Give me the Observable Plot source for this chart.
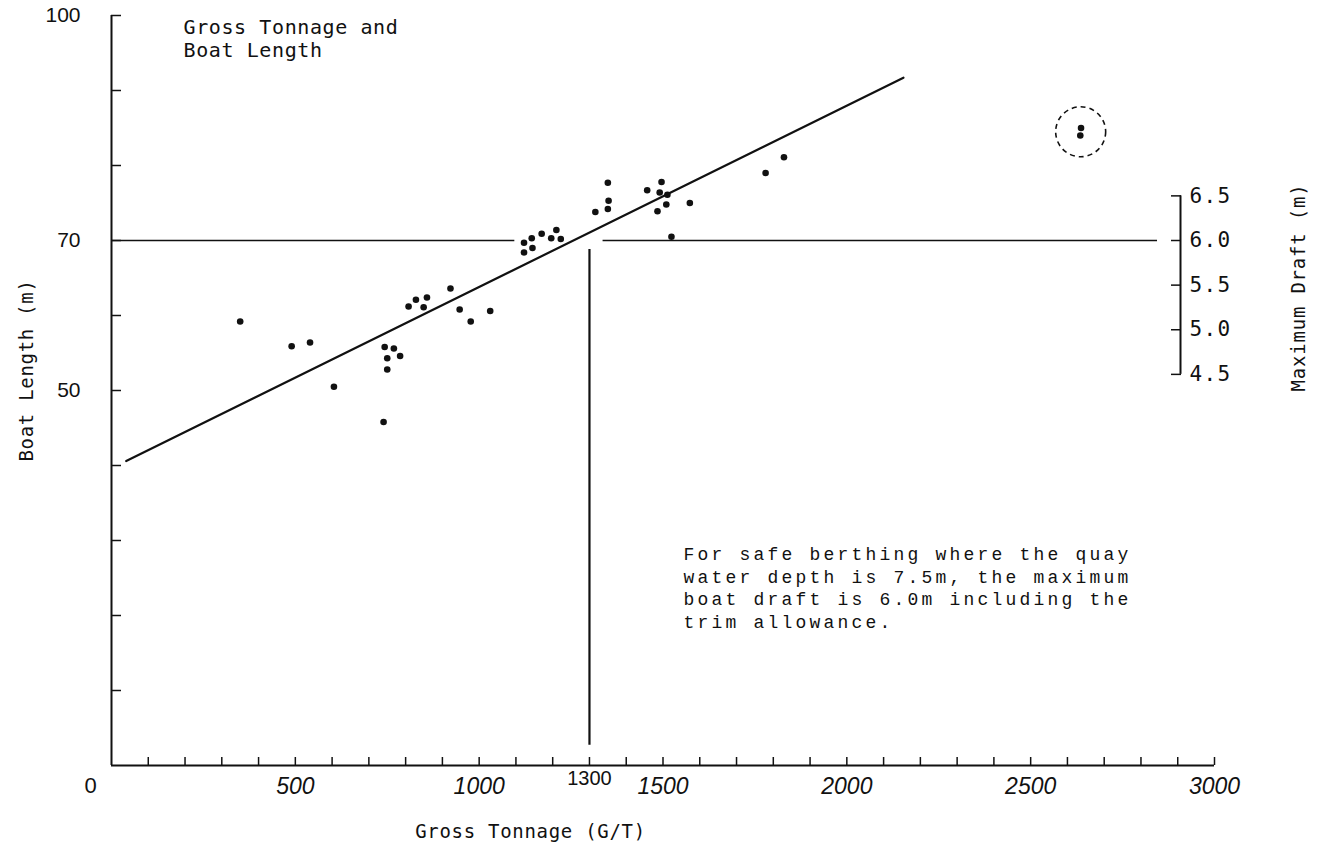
<!DOCTYPE html>
<html>
<head>
<meta charset="utf-8">
<script src="https://cdn.jsdelivr.net/npm/d3@7"></script>
<script src="https://cdn.jsdelivr.net/npm/@observablehq/plot@0.6"></script>
<style>
  html, body { margin: 0; padding: 0; background: #ffffff; }
  #chart svg { display: block; }
</style>
</head>
<body>
<div id="chart"></div>
<script>
// ---- data ----
const tonnage = [350, 490, 540, 605, 740, 743, 768, 750, 785, 750,
  808, 828, 858, 849, 922, 947, 977, 1030,
  1122, 1143, 1122, 1145, 1170, 1196, 1210, 1222,
  1350, 1352, 1350, 1316,
  1457, 1496, 1491, 1512, 1509, 1485, 1573, 1523,
  1779, 1829,
  2637, 2635];
const boatLength = [59.2, 55.9, 56.4, 50.5, 45.8, 55.8, 55.6, 54.3, 54.6, 52.8,
  61.2, 62.1, 62.4, 61.1, 63.6, 60.8, 59.2, 60.6,
  69.7, 70.3, 68.4, 69.0, 70.9, 70.3, 71.4, 70.2,
  77.7, 75.3, 74.2, 73.8,
  76.7, 77.8, 76.4, 76.1, 74.8, 73.9, 75.0, 70.5,
  79.0, 81.1,
  85.0, 84.0];

// fitted line end points
const fitTonnage = [40, 2154];
const fitLength = [40.6, 91.7];

// guide lines (boat length 70 m <-> draft 6.0 m, 1300 G/T)
const guideLength = 70;
const guideFrom = [0, 1337];
const guideTo = [1097, 2845];
const limitTonnage = 1300;
const limitFrom = 2.7;
const limitTo = 68.8;

// circled outlier group
const outlierTonnage = [2636];
const outlierLength = [84.5];

// axes
const xMinorTicks = d3.range(100, 3001, 100);
const xTickLabels = [500, 1000, 1500, 2000, 2500, 3000];
const yMinorTicks = d3.range(10, 101, 10);
const yTickLabels = [50, 70, 100];
const draftTicks = [4.5, 5.0, 5.5, 6.0, 6.5];

// draft (m) expressed on the boat-length scale: 6.0 m draft <-> 70 m length
const draftRef = 6.0, lengthRef = 70, lengthPerDraft = 11.9;
const draftToLength = d => lengthRef + (d - draftRef) * lengthPerDraft;
const lengthToDraft = l => draftRef + (l - lengthRef) / lengthPerDraft;

const titleText = "Gross Tonnage and\nBoat Length";
const noteText = "For safe berthing where the quay\nwater depth is 7.5m, the maximum\nboat draft is 6.0m including the\ntrim allowance.";
const xLabel = "Gross Tonnage (G/T)";
const yLabel = "Boat Length (m)";
const draftLabel = "Maximum Draft (m)";

const points = tonnage.map((t, i) => ({t, l: boatLength[i]}));
const fit = fitTonnage.map((t, i) => ({t, l: fitLength[i]}));
const guides = guideFrom.map((a, i) => ({a, b: guideTo[i], l: guideLength}));
const outliers = outlierTonnage.map((t, i) => ({t, l: outlierLength[i]}));

const mono = "DejaVu Sans Mono, monospace";
const sans = "Liberation Sans, Arial, sans-serif";
const plain = d => String(d);

const chart = Plot.plot({
  width: 1321,
  height: 855,
  marginLeft: 111,
  marginRight: 107,
  marginTop: 15,
  marginBottom: 90,
  style: {background: "#ffffff", color: "#111", overflow: "visible"},
  x: {domain: [0, 3000], label: null},
  y: {domain: [0, 100], label: null},
  marks: [
    // axis lines
    Plot.ruleX([0], {stroke: "#111", strokeWidth: 2}),
    Plot.ruleY([0], {stroke: "#111", strokeWidth: 2}),
    // inward ticks
    Plot.axisX(xMinorTicks, {anchor: "bottom", tickSize: 8, dy: -8, tickFormat: () => "", label: null, strokeWidth: 1.5}),
    Plot.axisY(yMinorTicks, {anchor: "left", tickSize: 10, dx: 10, tickFormat: () => "", label: null, strokeWidth: 1.5}),
    // tick labels
    Plot.axisX(xTickLabels, {anchor: "bottom", tickSize: 0, tickPadding: 12, label: null, tickFormat: plain,
      fontSize: 23, fontFamily: sans, fontStyle: "italic"}),
    Plot.axisX([limitTonnage], {anchor: "bottom", tickSize: 0, tickPadding: 5, label: null, tickFormat: plain,
      fontSize: 20, fontFamily: sans}),
    Plot.axisX([0], {anchor: "bottom", tickSize: 0, tickPadding: 12, dx: -21, label: null, tickFormat: plain,
      fontSize: 22, fontFamily: sans}),
    Plot.axisY(yTickLabels, {anchor: "left", tickSize: 0, tickPadding: 31, label: null, tickFormat: plain,
      fontSize: 21, fontFamily: sans}),
    // secondary draft axis
    Plot.ruleX([3000], {x: d => d, y1: draftToLength(4.5), y2: draftToLength(6.5), dx: -34, stroke: "#111", strokeWidth: 2}),
    Plot.axisY(draftTicks.map(draftToLength), {anchor: "right", tickSize: 10, dx: -44, tickFormat: () => "", label: null, strokeWidth: 1.5}),
    Plot.axisY(draftTicks.map(draftToLength), {anchor: "right", tickSize: 0, tickPadding: 9, dx: -34, label: null,
      tickFormat: v => d3.format(".1f")(lengthToDraft(v)), fontSize: 21, fontFamily: mono}),
    // guide lines
    Plot.ruleY(guides, {y: "l", x1: "a", x2: "b", stroke: "#111", strokeWidth: 1.6}),
    Plot.ruleX([limitTonnage], {x: d => d, y1: limitFrom, y2: limitTo, stroke: "#111", strokeWidth: 2.2}),
    // regression line
    Plot.line(fit, {x: "t", y: "l", stroke: "#111", strokeWidth: 2.2}),
    // data points
    Plot.dot(points, {x: "t", y: "l", r: 3.3, fill: "#111", stroke: "none"}),
    // dashed ring around outliers
    Plot.dot(outliers, {x: "t", y: "l", r: 25, fill: "none", stroke: "#111", strokeWidth: 1.6, strokeDasharray: "5,4"}),
    // texts
    Plot.text([titleText], {frameAnchor: "top-left", dx: 72, dy: 3, textAnchor: "start",
      lineAnchor: "top", lineHeight: 1.12, fontSize: 20, fontFamily: mono, fill: "#111"}),
    Plot.text([noteText],
      {frameAnchor: "top-left", dx: 572, dy: 528, textAnchor: "start", lineAnchor: "top", lineHeight: 1.27,
       fontSize: 18, fontFamily: "Liberation Mono, monospace", fill: "#111"}),
    Plot.text([xLabel], {frameAnchor: "bottom-left", dx: 419, dy: 72, textAnchor: "middle",
      fontSize: 19, fontFamily: mono, fill: "#111"}),
    Plot.text([yLabel], {frameAnchor: "top-left", dx: -92, dy: 355, rotate: -90, textAnchor: "middle",
      fontSize: 19, fontFamily: mono, fill: "#111"}),
    Plot.text([draftLabel], {frameAnchor: "top-right", dx: 77, dy: 272, rotate: -90, textAnchor: "middle",
      fontSize: 19, fontFamily: mono, fill: "#111"})
  ]
});
document.getElementById("chart").appendChild(chart);

// typewriter-like letter spacing
const spacing = [
  [t => t.startsWith("For safe"), "3.2px"],
  [t => t.startsWith("Gross Tonnage and"), "0.6px"],
  [t => t === xLabel, "0.7px"],
  [t => t === yLabel, "0.7px"],
  [t => t === draftLabel, "0.8px"],
  [t => /^\d\.\d$/.test(t), "1.4px"]
];
chart.querySelectorAll("text").forEach(el => {
  const t = el.textContent;
  for (const [test, ls] of spacing) if (test(t)) el.setAttribute("letter-spacing", ls);
});
</script>
</body>
</html>
